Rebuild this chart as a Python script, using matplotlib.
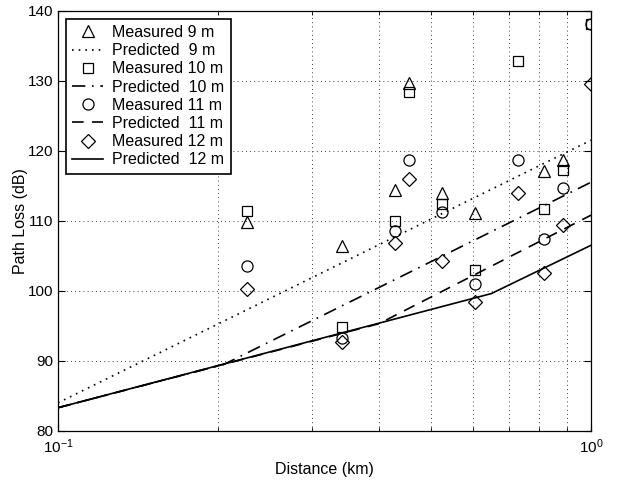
import matplotlib
matplotlib.use("Agg")
import matplotlib.pyplot as plt
import numpy as np
from matplotlib.ticker import LogLocator, NullFormatter, FixedLocator

plt.rcParams['font.family'] = ['Liberation Sans', 'DejaVu Sans']
plt.rcParams['font.size'] = 11

# measured path loss (dB) at each distance (km)
d9 = [0.226, 0.341, 0.429, 0.456, 0.5255, 0.606, 0.816, 0.886]
m9 = [109.8, 106.4, 114.4, 129.7, 114.0, 111.1, 117.1, 118.7]

d10 = [0.226, 0.341, 0.429, 0.456, 0.5255, 0.606, 0.730, 0.816, 0.886, 1.0]
m10 = [111.4, 94.8, 110.0, 128.4, 112.4, 103.0, 132.8, 111.7, 117.2, 138.1]

d11 = [0.226, 0.341, 0.429, 0.456, 0.5255, 0.606, 0.730, 0.816, 0.886, 1.0]
m11 = [103.5, 93.2, 108.5, 118.7, 111.2, 101.0, 118.7, 107.4, 114.7, 138.1]

d12 = [0.226, 0.341, 0.429, 0.456, 0.5255, 0.606, 0.730, 0.816, 0.886, 1.0]
m12 = [100.2, 92.7, 106.8, 116.0, 104.2, 98.4, 114.0, 102.5, 109.4, 129.5]

# predicted curves (breakpoints)
pd9 = [0.1, 1.0]
p9 = [84.0, 121.5]
pd10 = [0.1, 0.205, 1.0]
p10 = [83.3, 89.5, 115.5]
pd11 = [0.1, 0.40, 1.0]
p11 = [83.3, 95.3, 110.8]
pd12 = [0.1, 0.65, 1.0]
p12 = [83.3, 99.6, 106.5]

fig = plt.figure(figsize=(6.17, 4.83), dpi=100)
ax = fig.add_axes([0.094, 0.108, 0.864, 0.870])

mk = dict(linestyle='none', markerfacecolor='none', markeredgecolor='k', markeredgewidth=0.9)
lw = 1.2
ax.plot(d9, m9, marker='^', markersize=9, label='Measured 9 m', **mk)
ax.plot(pd9, p9, color='k', linestyle=(0, (1, 3)), linewidth=lw, label='Predicted  9 m')
ax.plot(d10, m10, marker='s', markersize=7, label='Measured 10 m', **mk)
ax.plot(pd10, p10, color='k', linestyle=(0, (8, 4, 1, 4)), linewidth=lw, label='Predicted  10 m')
ax.plot(d11, m11, marker='o', markersize=8, label='Measured 11 m', **mk)
ax.plot(pd11, p11, color='k', linestyle=(0, (7, 5)), linewidth=lw, label='Predicted  11 m')
ax.plot(d12, m12, marker='D', markersize=7, label='Measured 12 m', **mk)
ax.plot(pd12, p12, color='k', linestyle='-', linewidth=lw, label='Predicted  12 m')

ax.set_xscale('log')
ax.set_xlim(0.1, 1.0)
ax.set_ylim(80, 140)
ax.set_yticks(np.arange(80, 141, 10))
ax.xaxis.set_major_locator(FixedLocator([0.1, 1.0]))
ax.xaxis.set_minor_locator(LogLocator(base=10, subs=np.arange(2, 10)))
ax.xaxis.set_minor_formatter(NullFormatter())

ax.grid(True, which='both', axis='x', color='k', linestyle=(0, (1, 4)), linewidth=0.6)
ax.grid(True, which='major', axis='y', color='k', linestyle=(0, (1, 4)), linewidth=0.6)

ax.tick_params(which='both', direction='in', top=True, right=True, labelsize=11)
ax.tick_params(which='major', length=5)
ax.tick_params(which='minor', length=3)
ax.tick_params(axis='y', pad=3.5)
ax.tick_params(axis='x', pad=5)
for s in ax.spines.values():
    s.set_linewidth(0.9)

ax.set_xlabel('Distance (km)', fontsize=11.5)
ax.set_ylabel('Path Loss (dB)', fontsize=11.5)
ax.xaxis.set_label_coords(0.5, -0.074)
ax.yaxis.set_label_coords(-0.056, 0.5)

leg = ax.legend(loc='upper left', fontsize=11.5, handlelength=1.9, labelspacing=0.2,
                borderaxespad=0.5, fancybox=False, framealpha=1, edgecolor='k',
                handletextpad=0.6, borderpad=0.4)
leg.get_frame().set_linewidth(1.2)

fig.savefig('out.png', dpi=100)
